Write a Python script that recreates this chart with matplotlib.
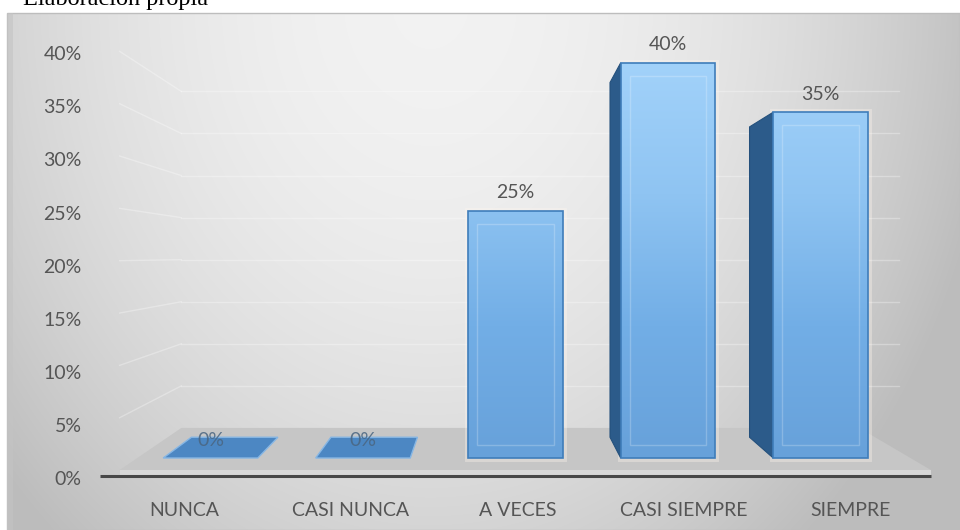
import numpy as np
import matplotlib
matplotlib.use('Agg')
from matplotlib import pyplot as plt
from matplotlib.patches import Polygon, Rectangle
from matplotlib.colors import LinearSegmentedColormap

categories = ['NUNCA', 'CASI NUNCA', 'A VECES', 'CASI SIEMPRE', 'SIEMPRE']
values = [0, 0, 25, 40, 35]
value_labels = ['0%', '0%', '25%', '40%', '35%']
y_ticks = [0, 5, 10, 15, 20, 25, 30, 35, 40]
y_tick_labels = ['0%', '5%', '10%', '15%', '20%', '25%', '30%', '35%', '40%']
caption = 'Elaboración propia'

W, H = 960, 530
FONT = 'Lato'
TXT = '#555555'

### fake excel 3d: points pushed toward a vanishing point with depth t
KX, VX = 0.085, 1.866
KY, VY = 0.1025, 20.5
HALF = 0.31
T_FRONT, T_BACK = -0.58, 1.45
FLOOR_X = (-0.48, 4.59)
T_XLAB, T_YLAB = -1.08, -0.74


def proj(i, v, t):
    return i + t * KX * (VX - i), v + t * KY * (VY - v)


def poly(pts, **kw):
    return Polygon([proj(*p) for p in pts], closed=True, **kw)


fig = plt.figure(figsize=(W / 100, H / 100), dpi=100)

# background panel with soft radial gradient
bg = fig.add_axes([0, 0, 1, 1], zorder=0)
bg.set_xlim(0, W)
bg.set_ylim(H, 0)
bg.axis('off')
yy, xx = np.mgrid[13:H, 7:W]
r2 = ((xx - 430) / 480.0) ** 2 + (yy / 600.0) ** 2
shade = np.clip(0.95 - 0.15 * r2, 0.74, 1)
bg.imshow(np.dstack([shade] * 3), extent=(7, W, H, 13), aspect='auto', interpolation='bilinear')
bg.add_patch(Rectangle((7, 13), W - 7, H - 13, fill=False, edgecolor='#bdbdbd', lw=1))
bg.add_patch(Rectangle((7, 13), 6, H - 13, facecolor='#c4c4c4', edgecolor='none', alpha=0.6))
fig.text(23 / W, 1 - 5 / H, caption, family='Liberation Serif', size=17.5, va='baseline', ha='left')

ax = fig.add_axes([90 / W, (H - 492) / H, 870 / W, 478 / H], zorder=1)
ax.set_facecolor('none')
for s in ax.spines.values():
    s.set_visible(False)

x0, x1 = FLOOR_X
# wall gridlines (very faint in the original)
for v in y_ticks[1:]:
    a, b = proj(x0, v, T_BACK), proj(x1 + 0.3, v, T_BACK)
    ax.plot([a[0], b[0]], [a[1], b[1]], color='white', lw=1, alpha=0.3, zorder=1)
    a, b = proj(x0, v, T_FRONT), proj(x0, v, T_BACK)
    ax.plot([a[0], b[0]], [a[1], b[1]], color='white', lw=1, alpha=0.3, zorder=1)

# floor slab
ax.add_patch(poly([(x0, 0, T_FRONT), (x1, 0, T_FRONT), (x1, 0, T_BACK), (x0, 0, T_BACK)],
                  facecolor='#c6c6c6', edgecolor='none', zorder=2))
ax.add_patch(poly([(x0, 0, T_FRONT), (x1, 0, T_FRONT), (x1, -0.6, T_FRONT), (x0, -0.6, T_FRONT)],
                  facecolor='#d8d8d8', edgecolor='none', zorder=2))
a, b = proj(x0 - 0.12, -0.6, T_FRONT), proj(x1, -0.6, T_FRONT)
ax.plot([a[0], b[0]], [a[1], b[1]], color='#474747', lw=2.2, zorder=3, solid_capstyle='butt')

front_cmap = LinearSegmentedColormap.from_list('front', ['#67a1da', '#72aee6', '#8fc4f2', '#a2d2fa'])
vmax = max(values)

for i, (v, lbl) in enumerate(zip(values, value_labels)):
    il, ir = i - HALF, i + HALF
    if v == 0:
        ax.add_patch(poly([(il, 0, 0), (ir, 0, 0), (ir, 0, 1), (il, 0, 1)],
                          facecolor='#4c87c3', edgecolor='#86b6e4', lw=1, zorder=4))
        ax.annotate(lbl, (i, v), xytext=(0, 12.5), textcoords='offset points', ha='center',
                    va='center', family=FONT, size=14, color='#4a6580', alpha=0.85, zorder=5)
        continue
    # soft glow round the bar
    ax.add_patch(Polygon([(il, 0), (ir, 0), (ir, v), (il, v)], closed=True, facecolor='none',
                         edgecolor='#fff6ee', lw=5, alpha=0.35, zorder=3))
    if il > VX:
        ax.add_patch(poly([(il, 0, 0), (il, v, 0), (il, v, 1), (il, 0, 1)],
                          facecolor='#2c5b8a', edgecolor='#24507c', lw=0.8, zorder=4))
    if ir < VX:
        ax.add_patch(poly([(ir, 0, 0), (ir, v, 0), (ir, v, 1), (ir, 0, 1)],
                          facecolor='#2c5b8a', edgecolor='#24507c', lw=0.8, zorder=4))
    if v < VY:
        ax.add_patch(poly([(il, v, 0), (ir, v, 0), (ir, v, 1), (il, v, 1)],
                          facecolor='#a3d3fa', edgecolor='#4a86c0', lw=0.8, zorder=4))
    face = Polygon([(il, 0), (ir, 0), (ir, v), (il, v)], closed=True, facecolor='none',
                   edgecolor='#3f7dba', lw=1.2, zorder=6)
    ax.add_patch(face)
    grad = np.linspace(0, 1, 256).reshape(-1, 1)
    im = ax.imshow(grad, extent=(il, ir, 0, vmax), origin='lower', cmap=front_cmap,
                   aspect='auto', zorder=5, interpolation='bilinear')
    im.set_clip_path(face)
    # bevel inset
    dx, dy = 0.06, 1.3
    ax.add_patch(Rectangle((il + dx, dy), ir - il - 2 * dx, v - 2 * dy, fill=False,
                           edgecolor='white', lw=1, alpha=0.22, zorder=6))
    ax.annotate(lbl, (i, v), xytext=(0, 13), textcoords='offset points', ha='center',
                va='center', family=FONT, size=14, color=TXT, zorder=7)

ax.set_xlim(-0.790, 4.915)
ax.set_ylim(-3.441, 44.94)

ax.set_yticks([proj(x0, v, T_YLAB)[1] - 0.5 for v in y_ticks])
ax.set_yticklabels(y_tick_labels, family=FONT, size=14, color=TXT)
ax.set_xticks([proj(i, 0, T_XLAB)[0] for i in range(len(categories))])
ax.set_xticklabels(categories, family=FONT, size=14, color=TXT)
ax.tick_params(axis='y', length=0, pad=6)
ax.tick_params(axis='x', length=0, pad=7)

fig.savefig('out.png', dpi=100)
